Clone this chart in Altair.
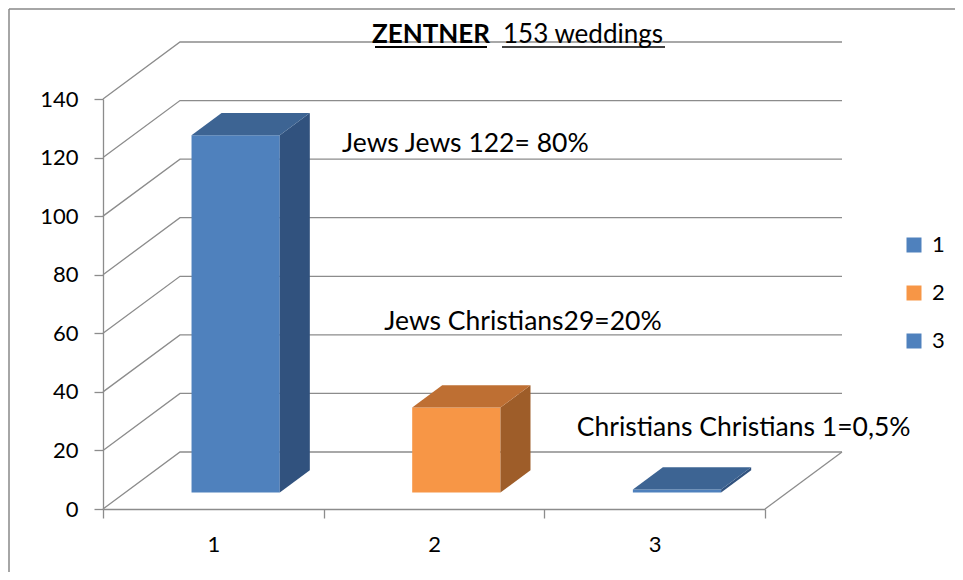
import altair as alt
import pandas as pd

# ---------------- data ----------------
categories = ["1", "2", "3"]
values = [122, 29, 1]
bar_labels = ["Jews Jews 122= 80%", "Jews Christians29=20%", "Christians Christians 1=0,5%"]
y_ticks = [0, 20, 40, 60, 80, 100, 120, 140]
title_bold = "ZENTNER"
title_rest = "153 weddings"

# ---------------- style ----------------
FONT = "Lato"
front_colors = ["#4F81BD", "#F79646", "#4F81BD"]
top_colors = ["#3D6493", "#BE6F33", "#3D6493"]
side_colors = ["#31527E", "#9E5D29", "#31527E"]
GRID = "#8C8C8C"

W, H = 662, 410
PAD_L, PAD_T, PAD_R, PAD_B = 95, 91, 190, 63
XMIN, XMAX, YMAX = 0.5, 3.5, 140
PX_X = W / (XMAX - XMIN)
PX_Y = H / YMAX
DU = 77 / PX_X          # depth shift of the 3-D box, in category units
DV = 57 / PX_Y          # depth shift of the 3-D box, in value units
F1, F2 = 0.29, 0.68     # front / back depth fraction of the bars
HALF = 0.2              # half bar width in category units
ANN_OFFSETS = [(252, 0), (89, -94), (89, -70)]

xs = alt.Scale(domain=[XMIN, XMAX], nice=False, zero=False)
ys = alt.Scale(domain=[0, YMAX], nice=False, zero=False)
xaxis = alt.Axis(
    title=None, values=[0.5, 1.5, 2.5, 3.5],
    labelExpr="datum.value < 3 ? format(datum.value + 0.5, 'd') : ''",
    labelOffset=PX_X / 2, labelFlush=False, labelOverlap=False, labelAlign="center",
    tickSize=9, tickColor=GRID, tickWidth=1.3, domainColor=GRID, domainWidth=1.3,
    labelFont=FONT, labelFontSize=22, labelColor="#000000", labelPadding=16, grid=False,
)
yaxis = alt.Axis(
    title=None, values=y_ticks, format="d",
    tickSize=9, tickColor=GRID, tickWidth=1.3, domainColor=GRID, domainWidth=1.3,
    labelFont=FONT, labelFontSize=22, labelColor="#000000", labelPadding=16, grid=False,
)

def X(f):
    return alt.X(f, scale=xs, axis=xaxis)

def Y(f):
    return alt.Y(f, scale=ys, axis=yaxis)

cx = [i + 1.0 for i in range(len(categories))]

front_df = pd.DataFrame({
    "cat": categories,
    "x": [c - HALF + F1 * DU for c in cx],
    "x2": [c + HALF + F1 * DU for c in cx],
    "y": [F1 * DV for _ in cx],
    "y2": [v + F1 * DV for v in values],
})

side_rows, top_rows = [], []
for i, (c, v) in enumerate(zip(cx, values)):
    for f in (F1, F2):
        side_rows.append({"bar": i, "sx": c + HALF + f * DU, "lo": f * DV,
                          "hi": v + f * DV, "fill": side_colors[i]})
        top_rows.append({"bar": i, "ty": v + f * DV, "xl": c - HALF + f * DU,
                         "xr": c + HALF + f * DU, "fill": top_colors[i]})
side_df = pd.DataFrame(side_rows)
top_df = pd.DataFrame(top_rows)

grid_rows = []
for t in y_ticks:
    pts = [(XMIN, t), (XMIN + DU, t + DV), (XMAX + DU, t + DV)]
    for k, (gx, gy) in enumerate(pts):
        grid_rows.append({"gid": f"g{t}", "k": k, "gx": gx, "gy": gy})
grid_rows.append({"gid": "floor", "k": 0, "gx": XMAX, "gy": 0})
grid_rows.append({"gid": "floor", "k": 1, "gx": XMAX + DU, "gy": DV})
grid_df = pd.DataFrame(grid_rows)

grid = alt.Chart(grid_df).mark_line(color=GRID, strokeWidth=1.3).encode(
    x=X("gx:Q"), y=Y("gy:Q"), detail="gid:N", order="k:Q"
)

front = alt.Chart(front_df).mark_rect(opacity=1).encode(
    x=X("x:Q"), x2="x2:Q", y=Y("y:Q"), y2="y2:Q",
    color=alt.Color(
        "cat:N",
        scale=alt.Scale(domain=categories, range=front_colors),
        legend=alt.Legend(
            title=None, orient="none", direction="vertical", legendX=800, legendY=135,
            symbolType="square", symbolSize=225, symbolStrokeWidth=0, symbolOpacity=1,
            labelFont=FONT, labelFontSize=22, labelColor="#000000",
            rowPadding=26, labelOffset=7, padding=0,
        ),
    ),
)

side = alt.Chart(side_df).mark_area(opacity=1).encode(
    x=X("sx:Q"), y=Y("lo:Q"), y2="hi:Q",
    fill=alt.Fill("fill:N", scale=None), detail="bar:N",
)

top = alt.Chart(top_df).mark_area(orient="horizontal", opacity=1).encode(
    y=Y("ty:Q"), x=X("xl:Q"), x2="xr:Q",
    fill=alt.Fill("fill:N", scale=None), detail="bar:N",
)

anns = []
for i, (c, v, t) in enumerate(zip(cx, values, bar_labels)):
    dx, dy = ANN_OFFSETS[i]
    anns.append(
        alt.Chart(pd.DataFrame({"ax": [c], "ay": [v], "t": [t]}))
        .mark_text(align="center", baseline="alphabetic", dx=dx, dy=dy,
                   font=FONT, fontSize=26.5, color="#000000")
        .encode(x=X("ax:Q"), y=Y("ay:Q"), text="t:N")
    )

one = pd.DataFrame({"t1": [title_bold], "t2": [title_rest]})
title1 = alt.Chart(one).mark_text(
    font=FONT, fontSize=26, fontWeight="bold", align="center", baseline="alphabetic", color="#000000"
).encode(x=alt.value(328), y=alt.value(-56), text="t1:N")
title2 = alt.Chart(one).mark_text(
    font=FONT, fontSize=26, align="center", baseline="alphabetic", color="#000000"
).encode(x=alt.value(480), y=alt.value(-56), text="t2:N")
ul1 = alt.Chart(one).mark_rule(color="#000000", strokeWidth=2).encode(
    x=alt.value(272), x2=alt.value(384), y=alt.value(-52)
)
ul2 = alt.Chart(one).mark_rule(color="#000000", strokeWidth=1.3).encode(
    x=alt.value(399), x2=alt.value(562), y=alt.value(-52)
)
border_l = alt.Chart(one).mark_rule(color="#888888", strokeWidth=1.5).encode(
    x=alt.value(-PAD_L + 1), y=alt.value(-PAD_T + 1), y2=alt.value(H + PAD_B + 5)
)
border_t = alt.Chart(one).mark_rule(color="#888888", strokeWidth=1.5).encode(
    x=alt.value(-PAD_L + 1), x2=alt.value(W + PAD_R + 5), y=alt.value(-PAD_T + 1)
)

chart = alt.layer(
    border_l, border_t, grid, front, side, top, *anns, title1, title2, ul1, ul2
).properties(
    width=W, height=H,
    padding={"left": PAD_L, "top": PAD_T, "right": PAD_R, "bottom": PAD_B},
    autosize=alt.AutoSizeParams(type="none"),
    background="white",
).configure_view(strokeWidth=0)

chart.save("out.html", embed_options={"renderer": "svg", "actions": False})
